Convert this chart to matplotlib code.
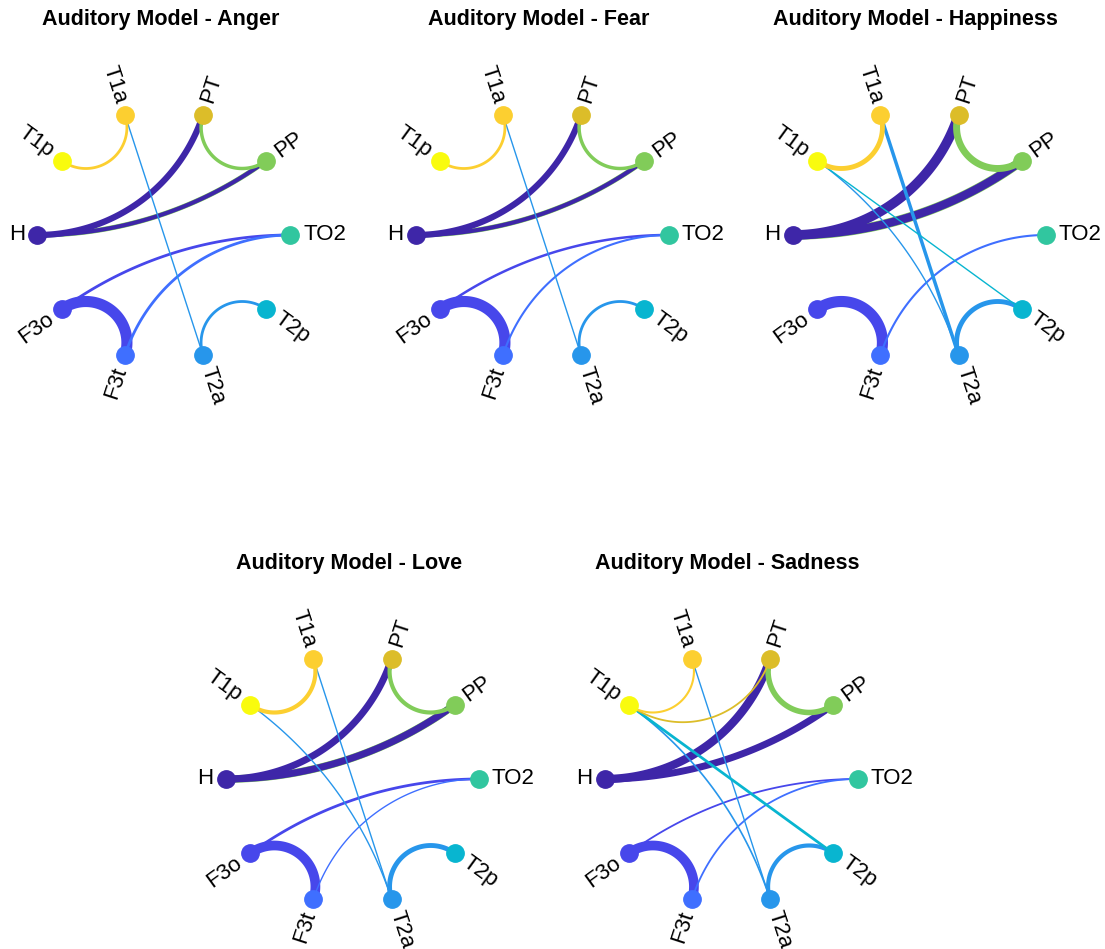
import numpy as np
import matplotlib
matplotlib.use('Agg')
import matplotlib.pyplot as plt

plt.rcParams['font.family'] = ['Liberation Sans', 'DejaVu Sans']

# node order as placed around the circle (starting at the left, counter-clockwise)
names = ['H', 'F3o', 'F3t', 'T2a', 'T2p', 'TO2', 'PP', 'PT', 'T1a', 'T1p']
# parula(10)
colors = ['#3E26A8', '#4747EB', '#3F6FFF', '#2796EB', '#08B5D0',
          '#31C69F', '#81CC59', '#DCBD29', '#FCCF30', '#F9FB0E']

titles = ['Auditory Model - Anger', 'Auditory Model - Fear',
          'Auditory Model - Happiness', 'Auditory Model - Love',
          'Auditory Model - Sadness']

# directed edges (row, col, width); colour comes from the row node
anger = [('H', 'PT', 4.5), ('PP', 'H', 3.6), ('H', 'PP', 3.0), ('PP', 'PT', 2.5),
         ('T1a', 'T1p', 2.0), ('T2a', 'T1a', 1.0), ('F3o', 'F3t', 8.0),
         ('F3o', 'TO2', 2.0), ('F3t', 'TO2', 2.0), ('T2a', 'T2p', 2.0)]
fear = [('H', 'PT', 4.5), ('PP', 'H', 3.6), ('H', 'PP', 3.0), ('PP', 'PT', 2.5),
        ('T1a', 'T1p', 2.0), ('T2a', 'T1a', 1.0), ('F3o', 'F3t', 8.0),
        ('F3o', 'TO2', 1.8), ('F3t', 'TO2', 1.5), ('T2a', 'T2p', 2.0)]
happiness = [('H', 'PT', 7.0), ('PP', 'H', 6.8), ('H', 'PP', 6.0), ('PP', 'PT', 5.0),
             ('T1a', 'T1p', 3.5), ('T2a', 'T1a', 2.5), ('T2p', 'T1p', 1.0),
             ('T2a', 'T1p', 1.0), ('F3o', 'F3t', 8.0), ('F3t', 'TO2', 1.5),
             ('T2a', 'T2p', 3.5)]
love = [('H', 'PT', 5.0), ('PP', 'H', 5.5), ('H', 'PP', 5.0), ('PP', 'PT', 3.0),
        ('T1a', 'T1p', 3.0), ('T2a', 'T1a', 1.0), ('T2a', 'T1p', 1.0),
        ('F3o', 'F3t', 7.0), ('F3o', 'TO2', 2.0), ('F3t', 'TO2', 1.0),
        ('T2a', 'T2p', 3.5)]
sadness = [('H', 'PT', 6.0), ('H', 'PP', 5.0), ('PP', 'PT', 4.0),
           ('T1a', 'T1p', 1.5), ('PT', 'T1p', 1.3), ('T2a', 'T1a', 1.0),
           ('T2a', 'T1p', 1.2), ('T2p', 'T1p', 2.0), ('F3o', 'F3t', 7.0),
           ('F3o', 'TO2', 1.3), ('F3t', 'TO2', 1.3), ('T2a', 'T2p', 3.0)]
panels = [anger, fear, happiness, love, sadness]

# panel centres in pixels (x from left, y from top)
centres = [(164, 235), (542, 235), (919.5, 235), (352.5, 779), (731, 779)]

W, H = 1105, 949
R = 126.5   # px per unit radius
L = 1.3

n = len(names)
t = np.linspace(-np.pi, np.pi, n + 1)[:-1]
idx = {nm: i for i, nm in enumerate(names)}

fig = plt.figure(figsize=(W / 100, H / 100), dpi=100)


def edge_xy(i, j):
    u = np.array([np.cos(t[i]), np.sin(t[i])])
    v = np.array([np.cos(t[j]), np.sin(t[j])])
    if abs(abs(i - j) - n / 2) < 1e-9:
        return [u[0], v[0]], [u[1], v[1]]
    den = u[0] * v[1] - u[1] * v[0]
    x0 = -(u[1] - v[1]) / den
    y0 = (u[0] - v[0]) / den
    r = np.sqrt(x0 ** 2 + y0 ** 2 - 1)
    a1 = np.arctan2(u[1] - y0, u[0] - x0)
    a2 = np.arctan2(v[1] - y0, v[0] - x0)
    d = (a2 - a1 + np.pi) % (2 * np.pi) - np.pi
    th = a1 + np.linspace(0, 1, 120) * d
    return r * np.cos(th) + x0, r * np.sin(th) + y0


for k, edges in enumerate(panels):
    cx, cy = centres[k]
    half = L * R
    ax = fig.add_axes([(cx - half) / W, (H - cy - half) / H, 2 * half / W, 2 * half / H])
    ax.set_xlim(-L, L)
    ax.set_ylim(-L, L)
    ax.axis('off')

    # draw in column-major order like find() does
    order = sorted(edges, key=lambda e: (idx[e[1]], idx[e[0]]))
    for a, b, w in order:
        i, j = idx[a], idx[b]
        xs, ys = edge_xy(i, j)
        ax.plot(xs, ys, color=colors[i], lw=w, solid_capstyle='butt', zorder=2)

    for i in range(n):
        ax.plot(np.cos(t[i]), np.sin(t[i]), 'o', ms=12.5, color=colors[i],
                mec=colors[i], zorder=3)
        x, y = 1.1 * np.cos(t[i]), 1.1 * np.sin(t[i])
        if abs(t[i]) > np.pi / 2:
            rot, ha = 180 * (t[i] / np.pi + 1), 'right'
        else:
            rot, ha = t[i] * 180 / np.pi, 'left'
        ax.text(x, y, names[i], rotation=rot, ha=ha, va='center',
                rotation_mode='anchor', fontsize=16)

    ax.text(-0.03, 1.707, titles[k], ha='center', va='center',
            fontsize=15.5, fontweight='bold')

fig.savefig('out.png', dpi=100)
